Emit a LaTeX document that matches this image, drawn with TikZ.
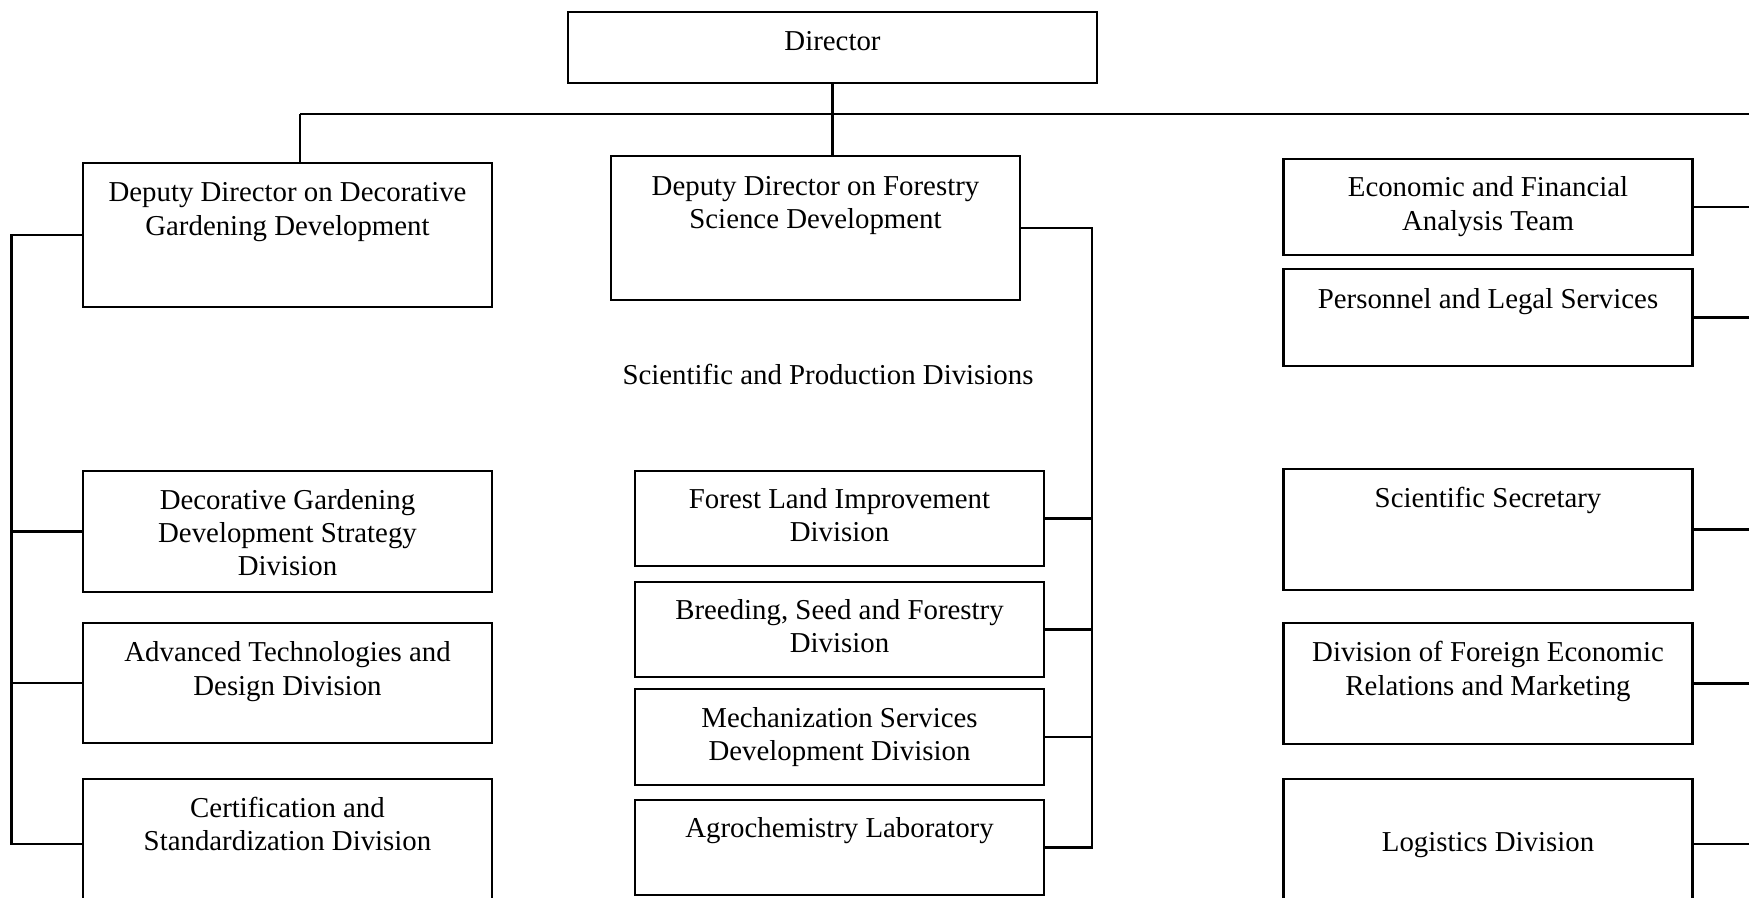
\documentclass[tikz,border=0pt]{standalone}
\usepackage{fontspec}
\setmainfont{Liberation Serif}
\begin{document}
\begin{tikzpicture}[x=0.01cm, y=-0.01cm, line width=0.7pt,
    orgbox/.style={draw, inner sep=0pt, minimum width=4.09cm},
    orgtext/.style={align=center, anchor=base, font=\fontsize{8.2}{9.45}\selectfont}]
  \useasboundingbox (0,0) rectangle (1749,897);
  \clip (0,0) rectangle (1749,897);
  % Column centres (text nodes sit on their last baseline)
  \def\xl{287.5} \def\xm{815.5} \def\xd{839.5} \def\xr{1488}
  % Director
  \node[orgbox, minimum width=5.29cm, minimum height=0.71cm] (dir) at (832.5,47.5) {};
  \node[orgtext] (dirtxt) at (832.5,50.7) {Director};
  % Deputies
  \node[orgbox, minimum height=1.44cm] (ldep) at (\xl,235) {};
  \node[orgtext] (ldeptxt) at (\xl,235) {Deputy Director on Decorative\\Gardening Development};
  \node[orgbox, minimum height=1.44cm] (mdep) at (\xm,228) {};
  \node[orgtext] (mdeptxt) at (\xm,228.3) {Deputy Director on Forestry\\Science Development};
  % Right column
  \node[orgbox, minimum height=0.96cm] (econ) at (\xr,207) {};
  \node[orgtext] (econtxt) at (\xr,230) {Economic and Financial\\Analysis Team};
  \node[orgbox, minimum height=0.97cm] (pers) at (\xr,317.5) {};
  \node[orgtext] (perstxt) at (\xr,308.3) {Personnel and Legal Services};
  \node[orgbox, minimum height=1.21cm] (scisec) at (\xr,529.5) {};
  \node[orgtext] (scisectxt) at (\xr,507.3) {Scientific Secretary};
  \node[orgbox, minimum height=1.21cm] (foreign) at (\xr,683.5) {};
  \node[orgtext] (foreigntxt) at (\xr,695) {Division of Foreign Economic\\Relations and Marketing};
  \node[orgbox, minimum height=1.30cm] (logis) at (\xr,844) {};
  \node[orgtext] (logistxt) at (\xr,851) {Logistics Division};
  % Caption over middle column
  \node[orgtext] (spdtxt) at (828,384) {Scientific and Production Divisions};
  % Left column divisions
  \node[orgbox, minimum height=1.21cm] (strat) at (\xl,531.5) {};
  \node[orgtext] (strattxt) at (\xl,575.7) {Decorative Gardening\\Development Strategy\\Division};
  \node[orgbox, minimum height=1.20cm] (adv) at (\xl,683) {};
  \node[orgtext] (advtxt) at (\xl,695) {Advanced Technologies and\\Design Division};
  \node[orgbox, minimum height=1.30cm] (cert) at (\xl,844) {};
  \node[orgtext] (certtxt) at (\xl,850.7) {Certification and\\Standardization Division};
  % Middle column divisions
  \node[orgbox, minimum height=0.95cm] (forest) at (\xd,518.5) {};
  \node[orgtext] (foresttxt) at (\xd,541.7) {Forest Land Improvement\\Division};
  \node[orgbox, minimum height=0.95cm] (breed) at (\xd,629.5) {};
  \node[orgtext] (breedtxt) at (\xd,652.3) {Breeding, Seed and Forestry\\Division};
  \node[orgbox, minimum height=0.96cm] (mech) at (\xd,737) {};
  \node[orgtext] (mechtxt) at (\xd,760.7) {Mechanization Services\\Development Division};
  \node[orgbox, minimum height=0.95cm] (agro) at (\xd,847.5) {};
  \node[orgtext] (agrotxt) at (\xd,837.3) {Agrochemistry Laboratory};
  % Bus lines
  \coordinate (busl) at (300,114);
  \coordinate (busr) at (1749,114);
  \coordinate (lrail) at (11.5,0);
  \coordinate (mrail) at (1091.8,0);
  \coordinate (rrail) at (1749,0);
  \draw (busl) -- (busr);
  \draw (busl) -- (busl |- ldep.north);
  \draw (dir.south) -- (dir.south |- mdep.north);
  % Left rail
  \draw (ldep.west) -- (lrail |- ldep.west) -- (lrail |- cert.west) -- (cert.west);
  \draw (strat.west) -- (lrail |- strat.west);
  \draw (adv.west) -- (lrail |- adv.west);
  % Middle rail
  \draw (mdep.east) -- (mrail |- mdep.east) -- (mrail |- agro.east) -- (agro.east);
  \foreach \n in {forest, breed, mech}
    \draw (\n.east) -- (mrail |- \n.east);
  % Right stubs to the edge
  \foreach \n in {econ, pers, scisec, foreign, logis}
    \draw (\n.east) -- (rrail |- \n.east);
\end{tikzpicture}
\end{document}
